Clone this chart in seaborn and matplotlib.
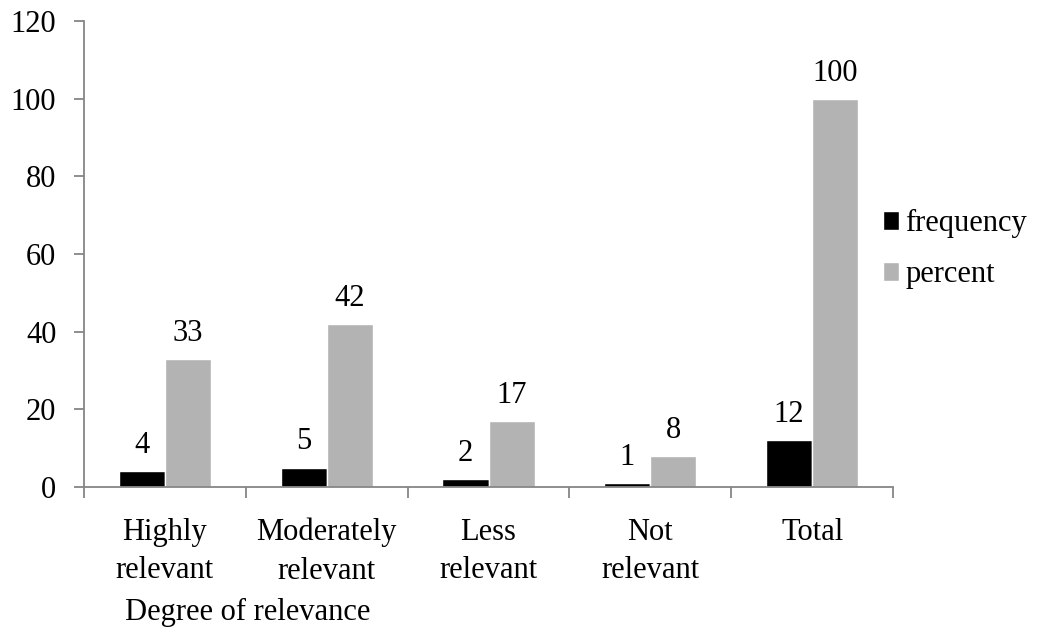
import matplotlib
matplotlib.use("Agg")
import matplotlib.pyplot as plt
import seaborn as sns
import pandas as pd
from matplotlib.ticker import FixedLocator

categories = ["Highly\nrelevant", "Moderately\nrelevant", "Less\nrelevant", "Not\nrelevant", "Total"]
frequency = [4, 5, 2, 1, 12]
percent = [33, 42, 17, 8, 100]
series_names = ["frequency", "percent"]
yticks = [0, 20, 40, 60, 80, 100, 120]

sns.set_theme(style="white")
plt.rcParams["font.family"] = ["Liberation Serif", "DejaVu Serif"]
plt.rcParams["text.color"] = "black"
plt.rcParams["xtick.labelcolor"] = "black"
plt.rcParams["ytick.labelcolor"] = "black"

FS = 22

df = pd.DataFrame({
    "category": categories * 2,
    "series": [series_names[0]] * len(categories) + [series_names[1]] * len(categories),
    "value": frequency + percent,
})

fig = plt.figure(figsize=(10.4, 6.36), dpi=100)
ax = fig.add_axes([0.0808, 0.2343, 0.8587 - 0.0808, 0.967 - 0.2343])

sns.barplot(data=df, x="category", y="value", hue="series",
            palette=["#000000", "#b3b3b3"], width=0.57, saturation=1,
            ax=ax, legend=True)

for container in ax.containers:
    ax.bar_label(container, fmt="%g", padding=8, fontsize=FS, color="black")

axis_color = "#868686"
ax.set_ylim(0, 120)
ax.set_xlim(-0.5, len(categories) - 0.5)
ax.set_yticks(yticks)
ax.tick_params(axis="y", labelsize=FS, length=7, width=1.3, color=axis_color,
               labelcolor="black", left=True, pad=13)
ax.tick_params(axis="x", which="major", labelsize=FS, length=0, pad=22,
               labelcolor="black")
ax.xaxis.set_minor_locator(FixedLocator([i - 0.5 for i in range(len(categories) + 1)]))
ax.tick_params(axis="x", which="minor", length=8, width=1.3, color=axis_color,
               bottom=True)
for lbl in ax.get_xticklabels():
    lbl.set_linespacing(1.45)

for side in ["top", "right"]:
    ax.spines[side].set_visible(False)
for side in ["left", "bottom"]:
    ax.spines[side].set_color(axis_color)
    ax.spines[side].set_linewidth(1.3)

ax.set_ylabel("")
ax.set_xlabel("")
fig.text(125 / 1040, 1 - 612 / 636, "Degree of relevance", fontsize=FS,
         ha="left", va="center", color="black")

leg = ax.legend(loc="center left", bbox_to_anchor=(0.972, 0.51), frameon=False,
                fontsize=FS, handlelength=0.55, handleheight=0.55,
                handletextpad=0.2, labelspacing=0.72, borderaxespad=0)
for t in leg.get_texts():
    t.set_color("black")

fig.savefig("out.png", dpi=100)
